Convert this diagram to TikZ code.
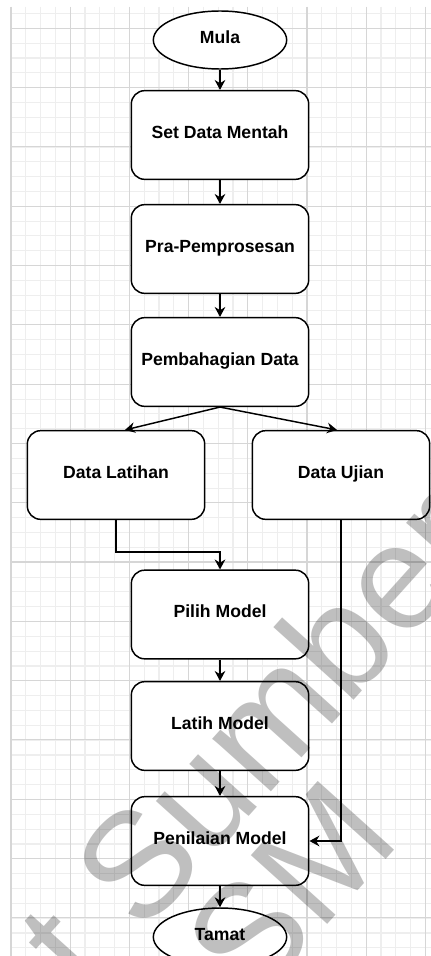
\documentclass[tikz,border=0pt]{standalone}
\usepackage{fontspec}
\setmainfont{Liberation Sans}
\usepackage{tikz}
\usepackage{xcolor}
\usetikzlibrary{shapes,arrows.meta,positioning,calc}
\definecolor{gridminor}{RGB}{238,238,238}
\definecolor{gridmajor}{RGB}{214,214,214}

\begin{document}
\begin{tikzpicture}[x=0.75pt,y=-0.75pt,
  proses/.style={rectangle, rounded corners=10pt, draw, line width=1.1pt, fill=white, minimum width=133pt, minimum height=66.5pt, text height=0.72em, text depth=0.2em, font=\bfseries\fontsize{13.2}{15}\selectfont},
  terminal/.style={ellipse, draw, line width=1.1pt, fill=white, minimum width=100pt, minimum height=43.5pt, text height=0.72em, text depth=0.2em, font=\bfseries\fontsize{13.2}{15}\selectfont},
  aliran/.style={-{Stealth[length=7.5pt,width=8pt,inset=2.5pt]}, line width=1.1pt},
  wmark/.style={rotate=48, text=black, text opacity=0.25, inner sep=0pt, font=\fontsize{112}{112}\selectfont}]
\useasboundingbox (0,0) rectangle (431,956);
\clip (0,0) rectangle (431,956);
\fill[white] (0,0) rectangle (431,956);

% grid
\foreach \i in {0,...,28} \draw[gridminor, line width=0.8pt] ({11+14.8*\i},7) -- ({11+14.8*\i},956);
\foreach \j in {0,...,63} \draw[gridminor, line width=0.8pt] (11,{13.5+14.83*\j}) -- (431,{13.5+14.83*\j});
\foreach \i in {0,...,7} \draw[gridmajor, line width=0.8pt] ({11+59.2*\i},7) -- ({11+59.2*\i},956);
\foreach \j in {0,...,15} \draw[gridmajor, line width=0.8pt] (11,{28.3+59.3*\j}) -- (431,{28.3+59.3*\j});

% langkah
\node[terminal] (mula) at (220,40) {Mula};
\node[proses] (set) at (220,135) {Set Data Mentah};
\node[proses] (pra) at (220,249) {Pra-Pemprosesan};
\node[proses] (bagi) at (220,362) {Pembahagian Data};
\node[proses] (latihan) at (116,475) {Data Latihan};
\node[proses] (ujian) at (341,475) {Data Ujian};
\node[proses] (pilih) at (220,614.5) {Pilih Model};
\node[proses] (latih) at (220,726) {Latih Model};
\node[proses] (nilai) at (220,841) {Penilaian Model};
\node[terminal] (tamat) at (220,937) {Tamat};

% aliran
\draw[aliran] (mula) -- (set);
\draw[aliran] (set) -- (pra);
\draw[aliran] (pra) -- (bagi);
\draw[aliran] (bagi.south) -- ($(latihan.north)+(9,0)$);
\draw[aliran] (bagi.south) -- ($(ujian.north)+(-4,0)$);
\draw[aliran] (latihan.south) -- ++(0,32) -| (pilih.north);
\draw[aliran] (pilih) -- (latih);
\draw[aliran] (latih) -- (nilai);
\draw[aliran] (ujian.south) |- (nilai.east);
\draw[aliran] (nilai) -- (tamat);

% tera air
\node[wmark] (wm1) at (222,767) {at Sumber};
\node[wmark] (wm2) at (290,890) {SM};
\end{tikzpicture}
\end{document}
